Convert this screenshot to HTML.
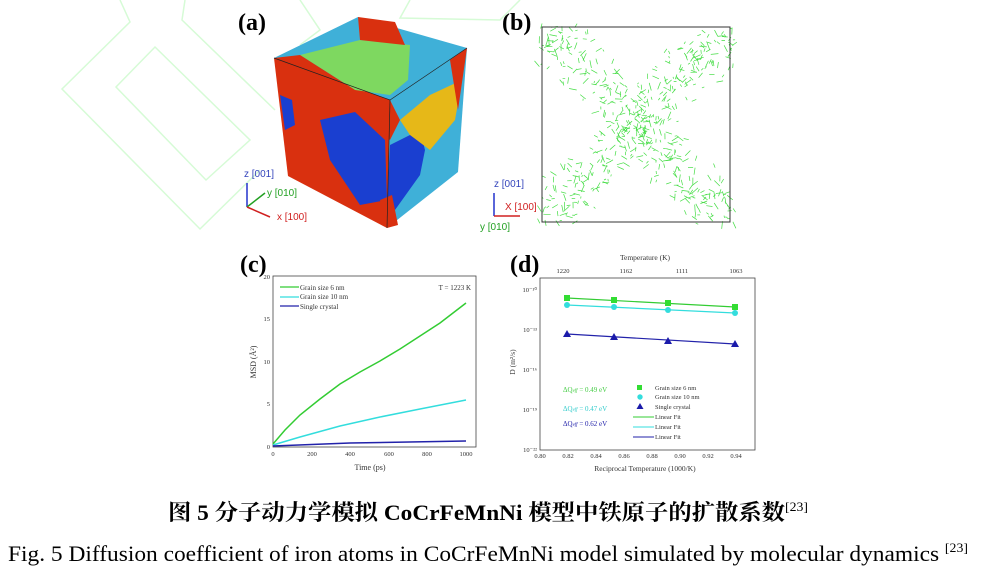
<!DOCTYPE html>
<html><head><meta charset="utf-8"><style>
html,body{margin:0;padding:0;background:#fff;width:1000px;height:574px;overflow:hidden}
svg{display:block}
.t{font-family:"Liberation Serif",serif}
.s{font-family:"Liberation Sans",sans-serif}
</style></head><body>
<svg id="sv" width="1000" height="574" viewBox="0 0 1000 574" xmlns="http://www.w3.org/2000/svg">
<g fill="none" stroke="#d6fbd6" stroke-width="1.5">
<polyline points="120,0 130,22 62,89 200,229 260,170"/>
<polygon points="155,47 250,140 206,180 116,87"/>
<polyline points="185,0 182,20 275,110"/>
<polyline points="300,0 320,30 300,45"/>
<polyline points="410,0 400,18 500,20 520,0"/>
</g>
<!-- cube -->
<polygon points="274,58 390,100 387,228 288,176" fill="#d9300f"/>
<polygon points="274,58 358,17 467,48 390,100" fill="#3fb0d8"/>
<polygon points="390,100 467,48 458,172 387,228" fill="#3fb0d8"/>
<polygon points="300,55 360,40 410,45 408,80 390,95 355,90" fill="#7ed860"/>
<polygon points="358,17 395,22 405,45 360,40" fill="#d9300f"/>
<polygon points="274,58 300,55 355,90 330,80" fill="#d9300f"/>
<polygon points="320,120 355,112 385,140 387,200 360,205 330,160" fill="#1a3fd0"/>
<polygon points="390,145 420,130 425,150 420,175 395,210 387,200" fill="#1a3fd0"/>
<polygon points="400,120 430,95 462,80 455,120 430,150 410,135" fill="#e6b818"/>
<polygon points="390,100 400,120 390,140 380,125" fill="#d9300f"/>
<polygon points="280,95 292,100 295,125 285,130" fill="#1a3fd0"/>
<polygon points="450,60 467,48 458,110" fill="#d9300f"/>
<polygon points="380,200 392,195 398,225 387,228" fill="#d9300f"/>
<polyline points="274,58 390,100 467,48" fill="none" stroke="#222" stroke-width="0.7"/>
<line x1="390" y1="100" x2="387" y2="228" stroke="#222" stroke-width="0.7"/>
<text x="238" y="30" class="t" font-size="24" font-weight="bold">(a)</text>
<g stroke-width="1.5" fill="none">
<line x1="247" y1="207" x2="247" y2="183" stroke="#2233cc"/>
<line x1="247" y1="207" x2="265" y2="193" stroke="#22a022"/>
<line x1="247" y1="207" x2="270" y2="217" stroke="#d02020"/>
</g>
<text x="244" y="177" class="s" font-size="10" fill="#3344bb">z [001]</text>
<text x="267" y="196" class="s" font-size="10" fill="#22a022">y [010]</text>
<text x="277" y="220" class="s" font-size="10" fill="#d02020">x [100]</text>
<!-- b -->
<text x="502" y="30" class="t" font-size="24" font-weight="bold">(b)</text>
<g id="scr" stroke="#44dd44" stroke-width="0.7"></g>
<rect x="542" y="27" width="188" height="195" fill="none" stroke="#333" stroke-width="1"/>
<line x1="494" y1="216" x2="494" y2="193" stroke="#2233cc" stroke-width="1.5"/>
<line x1="494" y1="216" x2="520" y2="216" stroke="#d02020" stroke-width="1.5"/>
<text x="494" y="187" class="s" font-size="10" fill="#3344bb">z [001]</text>
<text x="505" y="210" class="s" font-size="10" fill="#d02020">X [100]</text>
<text x="480" y="230" class="s" font-size="10" fill="#22a022">y [010]</text>
<!-- c -->
<text x="240" y="272" class="t" font-size="24" font-weight="bold">(c)</text>
<rect x="273" y="276" width="203" height="171" fill="none" stroke="#444" stroke-width="0.8"/>
<g class="t" font-size="6.5" fill="#333">
<text x="270" y="279" text-anchor="end">20</text>
<text x="270" y="321" text-anchor="end">15</text>
<text x="270" y="364" text-anchor="end">10</text>
<text x="270" y="406" text-anchor="end">5</text>
<text x="270" y="449" text-anchor="end">0</text>
<text x="273" y="456" text-anchor="middle">0</text>
<text x="312" y="456" text-anchor="middle">200</text>
<text x="350" y="456" text-anchor="middle">400</text>
<text x="389" y="456" text-anchor="middle">600</text>
<text x="427" y="456" text-anchor="middle">800</text>
<text x="466" y="456" text-anchor="middle">1000</text>
<text x="370" y="470" text-anchor="middle" font-size="8">Time (ps)</text>
<text transform="translate(256,362) rotate(-90)" text-anchor="middle" font-size="8">MSD (Å²)</text>
<text x="300" y="290" font-size="7">Grain size 6 nm</text>
<text x="300" y="299" font-size="7">Grain size 10 nm</text>
<text x="300" y="309" font-size="7">Single crystal</text>
<text x="471" y="290" text-anchor="end" font-size="7">T = 1223 K</text>
</g>
<line x1="280" y1="287" x2="299" y2="287" stroke="#33cc33" stroke-width="1.2"/>
<line x1="280" y1="297" x2="299" y2="297" stroke="#33dddd" stroke-width="1.2"/>
<line x1="280" y1="306" x2="299" y2="306" stroke="#2222aa" stroke-width="1.2"/>
<polyline fill="none" stroke="#33cc33" stroke-width="1.5" points="273,444 285,430 300,415 320,399 340,384 360,372 380,361 400,349 420,336 440,323 466,303"/>
<polyline fill="none" stroke="#33dddd" stroke-width="1.5" points="273,445 300,437 340,426 380,417 420,409 466,400"/>
<polyline fill="none" stroke="#2222aa" stroke-width="1.5" points="273,446 350,443 466,441"/>
<!-- d -->
<text x="510" y="272" class="t" font-size="24" font-weight="bold">(d)</text>
<rect x="540" y="278" width="215" height="172" fill="none" stroke="#444" stroke-width="0.8"/>
<g class="t" font-size="6.5" fill="#333">
<text x="645" y="260" text-anchor="middle" font-size="7.5">Temperature (K)</text>
<text x="563" y="273" text-anchor="middle">1220</text>
<text x="626" y="273" text-anchor="middle">1162</text>
<text x="682" y="273" text-anchor="middle">1111</text>
<text x="736" y="273" text-anchor="middle">1063</text>
<text x="537" y="292" text-anchor="end">10⁻¹⁰</text>
<text x="537" y="332" text-anchor="end">10⁻¹³</text>
<text x="537" y="372" text-anchor="end">10⁻¹⁶</text>
<text x="537" y="412" text-anchor="end">10⁻¹⁹</text>
<text x="537" y="452" text-anchor="end">10⁻²²</text>
<text x="540" y="458" text-anchor="middle">0.80</text>
<text x="568" y="458" text-anchor="middle">0.82</text>
<text x="596" y="458" text-anchor="middle">0.84</text>
<text x="624" y="458" text-anchor="middle">0.86</text>
<text x="652" y="458" text-anchor="middle">0.88</text>
<text x="680" y="458" text-anchor="middle">0.90</text>
<text x="708" y="458" text-anchor="middle">0.92</text>
<text x="736" y="458" text-anchor="middle">0.94</text>
<text x="645" y="471" text-anchor="middle" font-size="7.5">Reciprocal Temperature (1000/K)</text>
<text transform="translate(515,362) rotate(-90)" text-anchor="middle" font-size="7.5">D (m²/s)</text>
<text x="563" y="392" font-size="7" fill="#44cc44">ΔQ<tspan font-style="italic" font-size="5">eff</tspan> = 0.49 eV</text>
<text x="563" y="411" font-size="7" fill="#33cccc">ΔQ<tspan font-style="italic" font-size="5">eff</tspan> = 0.47 eV</text>
<text x="563" y="426" font-size="7" fill="#2222aa">ΔQ<tspan font-style="italic" font-size="5">eff</tspan> = 0.62 eV</text>
<text x="655" y="390" font-size="6.5">Grain size 6 nm</text>
<text x="655" y="399" font-size="6.5">Grain size 10 nm</text>
<text x="655" y="409" font-size="6.5">Single crystal</text>
<text x="655" y="419" font-size="6.5">Linear Fit</text>
<text x="655" y="429" font-size="6.5">Linear Fit</text>
<text x="655" y="439" font-size="6.5">Linear Fit</text>
</g>
<rect x="637" y="385" width="5" height="5" fill="#33dd33"/>
<circle cx="640" cy="397" r="2.7" fill="#33dddd"/>
<polygon points="640,403 643.5,409 636.5,409" fill="#1a1aaa"/>
<line x1="633" y1="417" x2="654" y2="417" stroke="#33cc33"/>
<line x1="633" y1="427" x2="654" y2="427" stroke="#33dddd"/>
<line x1="633" y1="437" x2="654" y2="437" stroke="#2222aa"/>
<polyline fill="none" stroke="#33cc33" stroke-width="1.2" points="567,298 735,307"/>
<polyline fill="none" stroke="#33dddd" stroke-width="1.2" points="567,305 735,313"/>
<polyline fill="none" stroke="#2222aa" stroke-width="1.2" points="567,334 735,344"/>
<g fill="#33dd33"><rect x="564" y="295" width="6" height="6"/><rect x="611" y="297" width="6" height="6"/><rect x="665" y="300" width="6" height="6"/><rect x="732" y="304" width="6" height="6"/></g>
<g fill="#33dddd"><circle cx="567" cy="305" r="3"/><circle cx="614" cy="307" r="3"/><circle cx="668" cy="310" r="3"/><circle cx="735" cy="313" r="3"/></g>
<g fill="#1a1aaa"><polygon points="567,330 571,337 563,337"/><polygon points="614,333 618,340 610,340"/><polygon points="668,337 672,344 664,344"/><polygon points="735,340 739,347 731,347"/></g>
<!-- captions -->
<text x="488" y="520" text-anchor="middle" font-size="22" font-weight="bold" textLength="640" lengthAdjust="spacingAndGlyphs" font-family="'Liberation Serif','Noto Serif CJK SC','Noto Sans CJK SC',serif">图 5  分子动力学模拟 CoCrFeMnNi 模型中铁原子的扩散系数<tspan font-size="13" font-weight="normal" dy="-9">[23]</tspan></text>
<text x="8" y="561" class="t" font-size="22" textLength="960" lengthAdjust="spacingAndGlyphs">Fig. 5 Diffusion coefficient of iron atoms in CoCrFeMnNi model simulated by molecular dynamics <tspan font-size="13" dy="-9">[23]</tspan></text>
</svg>
<script>
(function(){
var g=document.getElementById('scr'),s=7,h='';
function r(){s=(s*16807)%2147483647;return s/2147483647;}
for(var i=0;i<650;i++){
 var t=r(),d=r()<0.5, x,y;
 x=542+t*188; y=d?27+t*195:222-t*195;
 x+=(r()-0.5)*50; y+=(r()-0.5)*40;
 if(x<538||x>735||y<25||y>225)continue;
 var a=r()*6.28,l=2+r()*6;
 h+='<line x1="'+x.toFixed(1)+'" y1="'+y.toFixed(1)+'" x2="'+(x+Math.cos(a)*l).toFixed(1)+'" y2="'+(y+Math.sin(a)*l).toFixed(1)+'"/>';
}
g.innerHTML=h;
})();
</script>
</body></html>
